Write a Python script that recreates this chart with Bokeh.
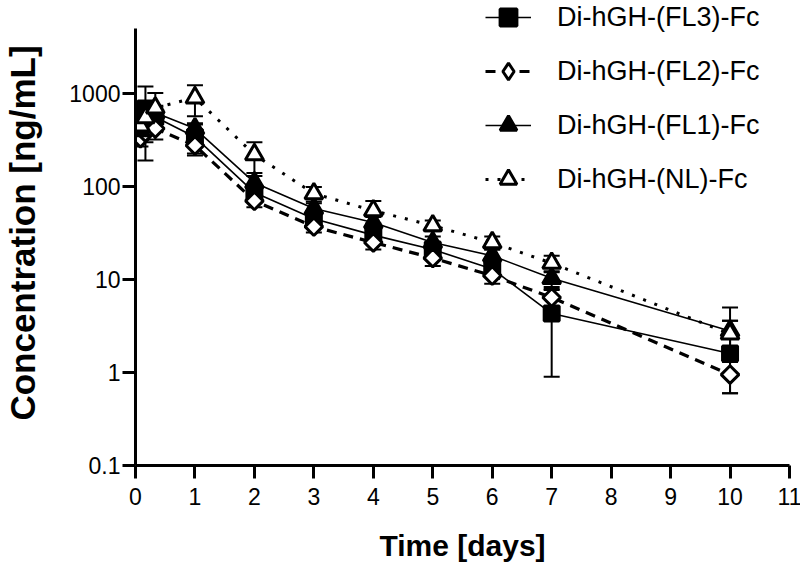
import numpy as np
from bokeh.plotting import figure
from bokeh.models import (ColumnDataSource, Whisker, TeeHead, Legend, LegendItem,
                          FixedTicker)
from bokeh.embed import file_html
from bokeh.resources import INLINE

# ---- data ----
time_days = [0.083, 0.167, 0.333, 1, 2, 3, 4, 5, 6, 7, 10]

fl3_mean = [500, 690, 560, 340, 86, 45, 30, 21, 13, 4.3, 1.6]
fl3_sd   = [100, 500, 150, 125, 15, 6, 5, 4, 2, 3.4, 2.0]

fl2_mean = [330, 380, 420, 276, 70, 37, 25, 17, 11, 6.4, 0.95]
fl2_sd   = [60, 80, 100, 50, 10, 5, 4, 3, 2, 1.5, 0.35]

fl1_mean = [400, 600, 620, 420, 110, 58, 41, 25, 18, 10.3, 2.8]
fl1_sd   = [80, 100, 120, 60, 20, 8, 6, 4, 3, 2, 2.2]

nl_mean  = [450, 550, 700, 900, 220, 84, 55, 38, 25, 15, 2.6]
nl_sd    = [100, 100, 310, 330, 80, 15, 15, 5, 4, 3, 1.0]

series_names = ["Di-hGH-(FL3)-Fc", "Di-hGH-(FL2)-Fc", "Di-hGH-(FL1)-Fc", "Di-hGH-(NL)-Fc"]
y_ticks = [0.1, 1, 10, 100, 1000]
x_ticks = list(range(0, 12))
y_axis_extent = (0.1, 5000)

FONT = "Liberation Sans"

p = figure(frame_width=654, frame_height=465, output_backend="svg", toolbar_location=None,
           x_range=(0, 11), y_range=(0.1, 10000), y_axis_type="log",
           min_border_left=132, min_border_right=14, min_border_top=0,
           min_border_bottom=107)
p.outline_line_color = None
p.grid.visible = False
p.background_fill_color = "white"

for ax in (p.xaxis[0], p.yaxis[0]):
    ax.axis_line_width = 3
    ax.major_tick_line_width = 3
    ax.major_tick_out = 13
    ax.major_tick_in = 0
    ax.minor_tick_line_color = None
    ax.major_label_text_font = FONT
    ax.major_label_text_font_size = "23px"
    ax.major_label_text_color = "black"
    ax.axis_label_text_font = FONT
    ax.axis_label_text_font_style = "bold"
    ax.axis_label_text_color = "black"
    ax.axis_line_color = "black"
    ax.major_tick_line_color = "black"

p.yaxis.bounds = y_axis_extent
p.xaxis.axis_label_text_font_size = "30px"
p.yaxis.axis_label_text_font_size = "35px"
p.xaxis.ticker = FixedTicker(ticks=x_ticks)
p.yaxis.ticker = FixedTicker(ticks=y_ticks)
p.yaxis.major_label_overrides = {0.1: "0.1", 1: "1", 10: "10", 100: "100", 1000: "1000"}
p.xaxis.axis_label = "Time [days]"
p.yaxis.axis_label = "Concentration [ng/mL]"
p.xaxis.major_label_standoff = 9
p.yaxis.major_label_standoff = 2
p.xaxis.axis_label_standoff = 21
p.yaxis.axis_label_standoff = 24


def add_series(mean, sd, marker, fill, dash, lw, size, angle=0.0, key_marker=None):
    m = np.array(mean, dtype=float)
    s = np.array(sd, dtype=float)
    lower = np.where(m - s > 0, m - s, m)
    src = ColumnDataSource(dict(t=time_days, y=m, lo=lower, hi=m + s))
    w = Whisker(source=src, base="t", lower="lo", upper="hi", dimension="height",
                line_color="black", line_width=2,
                upper_head=TeeHead(size=16, line_width=2, line_color="black"),
                lower_head=TeeHead(size=16, line_width=2, line_color="black"))
    p.add_layout(w)
    ln = p.line("t", "y", source=src, line_color="black", line_width=lw, line_dash=dash)
    rs = [ln]
    key = None
    if key_marker is not None:
        # drawn underneath the rotated square; supplies the legend's diamond key
        key = p.scatter("t", "y", source=src, marker=key_marker, size=16,
                        fill_color=fill, line_color="black", line_width=3)
    sc = p.scatter("t", "y", source=src, marker=marker, size=size, angle=angle,
                   fill_color=fill, line_color="black", line_width=3)
    rs.append(key if key is not None else sc)
    return rs


r1 = add_series(fl3_mean, fl3_sd, "square", "black", "solid", 1.6, 15)
r2 = add_series(fl2_mean, fl2_sd, "square", "white", "10 7", 3.2, 12.5,
                angle=np.pi / 4, key_marker="diamond")
r3 = add_series(fl1_mean, fl1_sd, "triangle", "black", "solid", 1.6, 18)
r4 = add_series(nl_mean, nl_sd, "triangle", "white", "3 9", 3.0, 18)

items = [LegendItem(label=n, renderers=r) for n, r in zip(series_names, [r1, r2, r3, r4])]
legend = Legend(items=items, location=(350, 265), orientation="vertical",
                glyph_width=46, glyph_height=42, label_height=42, spacing=12,
                label_standoff=26, padding=0, margin=0,
                border_line_color=None, background_fill_alpha=0,
                label_text_font=FONT, label_text_font_size="27px",
                label_text_color="black")
p.add_layout(legend, "center")

open("out.html", "w").write(file_html(p, INLINE))
